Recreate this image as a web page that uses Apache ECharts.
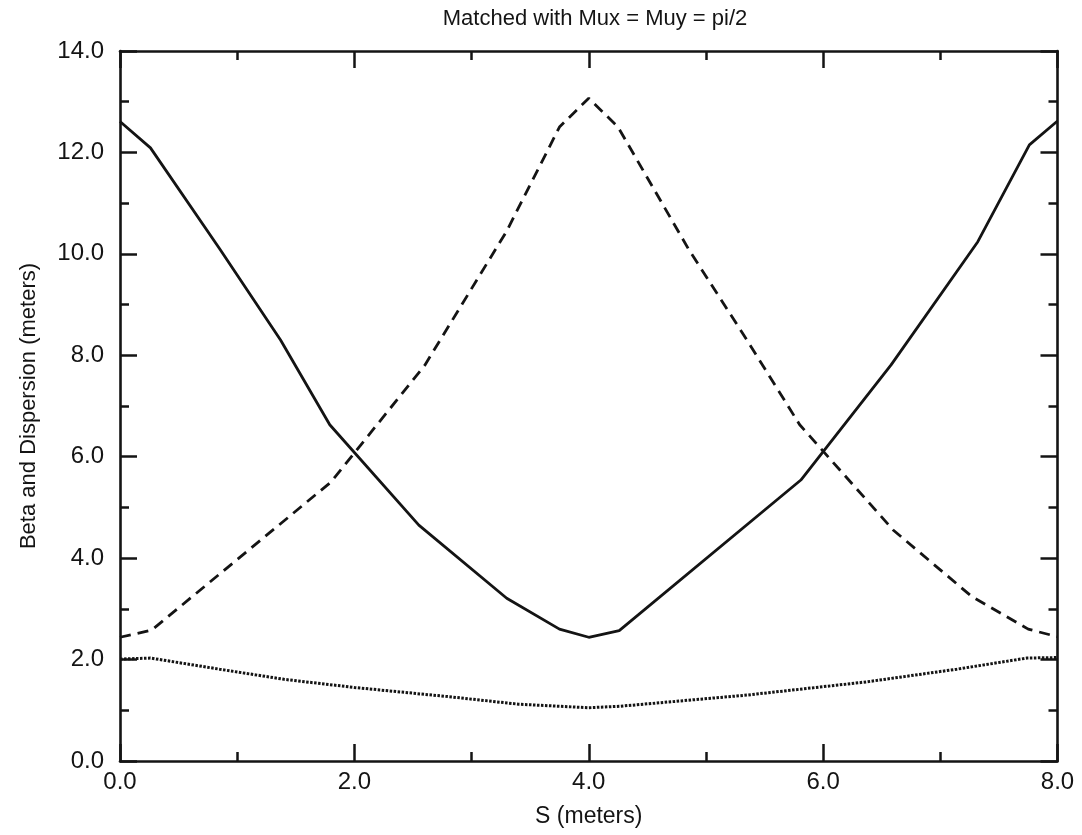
<!DOCTYPE html>
<html>
<head>
<meta charset="utf-8">
<script src="https://cdn.jsdelivr.net/npm/echarts@6/dist/echarts.min.js"></script>
<style>
html,body{margin:0;padding:0;background:#fff;}
#chart{width:1082px;height:835px;}
</style>
</head>
<body>
<div id="chart"></div>
<script>
// Solid line (beta)
var solidS = [0, 0.26, 0.85, 1.37, 1.79, 2.55, 3.30, 3.75, 4.0, 4.26, 5.81, 6.58, 7.32, 7.76, 8.0];
var solidV = [12.61, 12.09, 10.1, 8.3, 6.63, 4.65, 3.21, 2.60, 2.44, 2.57, 5.54, 7.81, 10.24, 12.15, 12.62];
// Dashed line (beta)
var dashS = [0, 0.27, 1.8, 2.6, 3.3, 3.75, 4.0, 4.25, 4.85, 5.35, 5.8, 6.6, 7.27, 7.75, 8.0];
var dashV = [2.44, 2.58, 5.5, 7.8, 10.45, 12.5, 13.07, 12.5, 10.1, 8.3, 6.63, 4.55, 3.24, 2.6, 2.45];
// Dotted line (dispersion)
var dotS = [0, 0.26, 0.85, 1.4, 2.0, 2.84, 3.4, 4.0, 4.27, 5.35, 6.37, 7.14, 7.74, 8.0];
var dotV = [2.01, 2.03, 1.81, 1.61, 1.45, 1.26, 1.12, 1.05, 1.08, 1.30, 1.56, 1.81, 2.03, 2.04];

var titleText = 'Matched with Mux = Muy = pi/2';
var xName = 'S (meters)';
var yName = 'Beta and Dispersion (meters)';

function pairs(xs, ys) { return xs.map(function (x, i) { return [x, ys[i]]; }); }

var ink = '#141414';
var font = '"Liberation Sans", Arial, Helvetica, sans-serif';

function axisCommon(showLabel) {
  return {
    type: 'value',
    min: 0,
    interval: 2,
    axisLine: { show: true, onZero: false, lineStyle: { color: ink, width: 2.6 } },
    axisTick: { show: true, inside: true, length: 17, lineStyle: { color: ink, width: 2.5 } },
    minorTick: { show: true, splitNumber: 2, length: 9, lineStyle: { color: ink, width: 2.5 } },
    splitLine: { show: false },
    axisLabel: {
      show: showLabel,
      color: ink,
      fontSize: 24,
      fontFamily: font,
      formatter: function (v) { return v.toFixed(1); }
    }
  };
}

var xBottom = axisCommon(true);
xBottom.max = 8; xBottom.position = 'bottom';
xBottom.axisLabel.margin = 9;
xBottom.name = xName; xBottom.nameLocation = 'middle'; xBottom.nameGap = 44;
xBottom.nameTextStyle = { color: ink, fontSize: 23, fontFamily: font };

var xTop = axisCommon(false);
xTop.max = 8; xTop.position = 'top';

var yLeft = axisCommon(true);
yLeft.max = 14; yLeft.position = 'left';
yLeft.axisLabel.margin = 16;
yLeft.name = yName; yLeft.nameLocation = 'middle'; yLeft.nameGap = 80;
yLeft.nameTextStyle = { color: ink, fontSize: 22, fontFamily: font };

var yRight = axisCommon(false);
yRight.max = 14; yRight.position = 'right';

var chart = echarts.init(document.getElementById('chart'), null, { renderer: 'canvas' });
chart.setOption({
  backgroundColor: '#ffffff',
  animation: false,
  title: {
    text: titleText,
    left: 590,
    textAlign: 'center',
    top: 3,
    textStyle: { color: ink, fontSize: 22, fontWeight: 'normal', fontFamily: font }
  },
  grid: { left: 120, right: 24.5, top: 51, bottom: 74, containLabel: false },
  xAxis: [xBottom, xTop],
  yAxis: [yLeft, yRight],
  series: [
    {
      type: 'line', xAxisIndex: 0, yAxisIndex: 0, symbol: 'none',
      data: pairs(solidS, solidV),
      lineStyle: { color: ink, width: 2.8, type: 'solid' }
    },
    {
      type: 'line', xAxisIndex: 0, yAxisIndex: 0, symbol: 'none',
      data: pairs(dashS, dashV),
      lineStyle: { color: ink, width: 2.8, type: [11, 7] }
    },
    {
      type: 'line', xAxisIndex: 0, yAxisIndex: 0, symbol: 'none',
      data: pairs(dotS, dotV),
      lineStyle: { color: ink, width: 3, type: [2.5, 1.5] }
    }
  ]
});
</script>
</body>
</html>
